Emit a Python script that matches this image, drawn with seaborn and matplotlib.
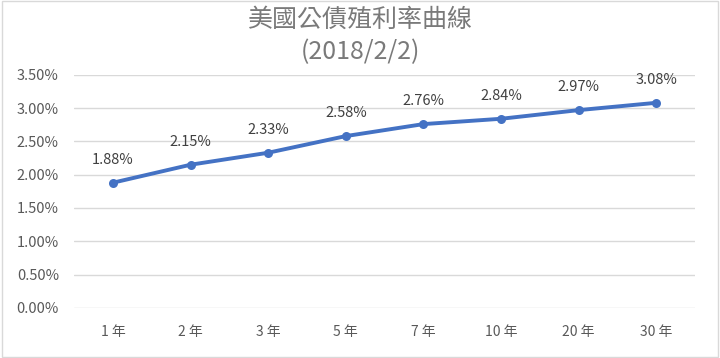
import matplotlib
matplotlib.use("Agg")
import matplotlib.pyplot as plt
import seaborn as sns
import pandas as pd
from matplotlib.ticker import PercentFormatter

maturities = ["1 年", "2 年", "3 年", "5 年", "7 年", "10 年", "20 年", "30 年"]
yields = [1.88, 2.15, 2.33, 2.58, 2.76, 2.84, 2.97, 3.08]
yticks = [0.0, 0.5, 1.0, 1.5, 2.0, 2.5, 3.0, 3.5]

df = pd.DataFrame({"maturity": maturities, "yield": yields})

sns.set_style("white")
plt.rcParams['font.family'] = ['Noto Sans CJK TC', 'DejaVu Sans']
text_color = "#595959"

fig = plt.figure(figsize=(7.2, 3.58), dpi=100)
ax = fig.add_axes([0.103, 0.14, 0.8625, 0.651])

sns.lineplot(data=df, x="maturity", y="yield", ax=ax, color="#4472C4",
             linewidth=2.8, marker="o", markersize=6.5, markeredgewidth=0, sort=False)

for i, v in enumerate(yields):
    ax.annotate(f"{v:.2f}%", (i, v), xytext=(0, 11.5), textcoords="offset points",
                ha="center", va="bottom", fontsize=10.5, color="#404040")

ax.set_xlim(-0.5, len(maturities) - 0.5)
ax.set_ylim(0, 3.5)
ax.set_yticks(yticks)
ax.yaxis.set_major_formatter(PercentFormatter(decimals=2))
ax.grid(axis="y", color="#D9D9D9", linewidth=1)
ax.set_axisbelow(True)
for s in ax.spines.values():
    s.set_visible(False)
ax.tick_params(axis="x", length=0, labelsize=10, labelcolor=text_color, pad=12)
ax.tick_params(axis="y", length=0, labelsize=10.5, labelcolor=text_color, pad=11)
ax.set_xlabel("")
ax.set_ylabel("")

fig.text(0.5, 0.944, "美國公債殖利率曲線", ha="center", va="center",
         fontsize=18, color="#7a7a7a", fontweight="light")
fig.text(0.5, 0.855, "(2018/2/2)", ha="center", va="center",
         fontsize=18, color="#7a7a7a", fontweight="light")

fig.patches.append(plt.Rectangle((0.003, 0.003), 0.994, 0.994, transform=fig.transFigure,
                                 fill=False, edgecolor="#D9D9D9", linewidth=1))

fig.savefig("out.png", dpi=100)
